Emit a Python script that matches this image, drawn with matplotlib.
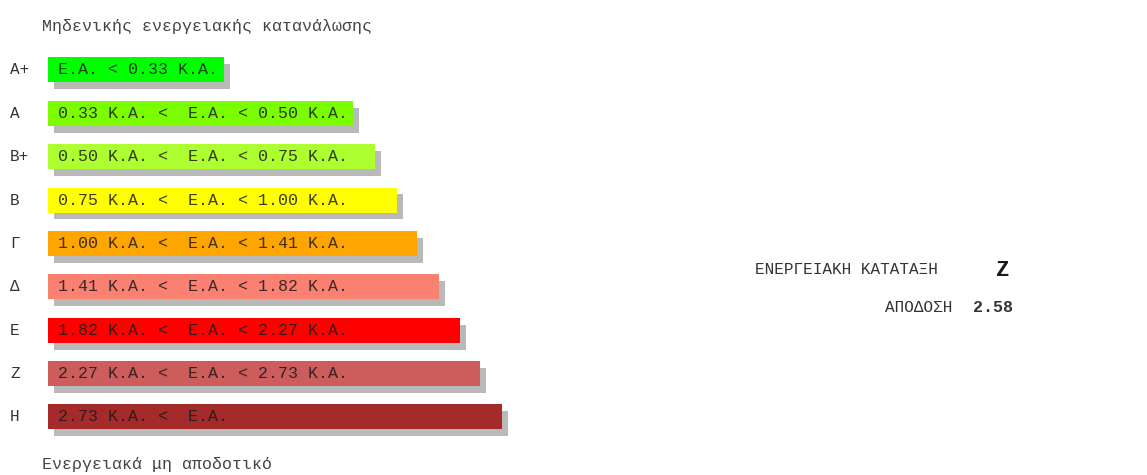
import matplotlib
matplotlib.use("Agg")
import matplotlib.pyplot as plt
import matplotlib.patheffects as pe

# energy classes, top to bottom
classes = ["Α+", "Α", "Β+", "Β", "Γ", "Δ", "Ε", "Ζ", "Η"]
ranges = [
    "Ε.Α. < 0.33 Κ.Α.",
    "0.33 Κ.Α. <  Ε.Α. < 0.50 Κ.Α.",
    "0.50 Κ.Α. <  Ε.Α. < 0.75 Κ.Α.",
    "0.75 Κ.Α. <  Ε.Α. < 1.00 Κ.Α.",
    "1.00 Κ.Α. <  Ε.Α. < 1.41 Κ.Α.",
    "1.41 Κ.Α. <  Ε.Α. < 1.82 Κ.Α.",
    "1.82 Κ.Α. <  Ε.Α. < 2.27 Κ.Α.",
    "2.27 Κ.Α. <  Ε.Α. < 2.73 Κ.Α.",
    "2.73 Κ.Α. <  Ε.Α.",
]
bar_len = [176, 305, 327, 349, 369, 391, 412, 432, 454]
bar_colors = ["lime", "lawngreen", "greenyellow", "yellow", "orange",
              "salmon", "red", "indianred", "brown"]

top_label = "Μηδενικής ενεργειακής κατανάλωσης"
bottom_label = "Ενεργειακά μη αποδοτικό"
rating = "Ζ"
score = "2.58"

mono = "Liberation Mono"
W, H = 1147, 475
fig = plt.figure(figsize=(W / 100, H / 100), dpi=100)
ax = fig.add_axes([0, 0, 1, 1])
ax.set_axis_off()

# px mapping: row i centred at 70 + 43.35*i
step = 43.35
ax.set_xlim(0, W)
ax.set_ylim((H - 70) / step, -70 / step)

ypos = list(range(len(classes)))
shadow = [pe.SimplePatchShadow(offset=(4.4, -5.0), shadow_rgbFace="#b9b9b9", alpha=1.0),
          pe.Normal()]
bars = ax.barh(ypos, bar_len, left=48, height=25 / step, color=bar_colors)
for b in bars:
    b.set_path_effects(shadow)

for i, (c, r) in enumerate(zip(classes, ranges)):
    ax.text(10, i, c, family=mono, fontsize=11.5, color="#333333", va="center", ha="left")
    ax.text(58, i, r, family=mono, fontsize=12, color="#1a1a1a", va="center", ha="left",
            alpha=0.85)

ax.text(42, (27 - 70) / step, top_label, family=mono, fontsize=12, color="#444444",
        va="center", ha="left")
ax.text(42, (465 - 70) / step, bottom_label, family=mono, fontsize=12, color="#444444",
        va="center", ha="left")

fig.text(755 / W, 1 - 270 / H, "ΕΝΕΡΓΕΙΑΚΗ ΚΑΤΑΤΑΞΗ", family=mono, fontsize=11.5,
         color="#333333", va="center", ha="left")
fig.text(996 / W, 1 - 270 / H, rating, family=mono, fontsize=16, fontweight="bold",
         color="#1a1a1a", va="center", ha="left")
fig.text(885 / W, 1 - 308 / H, "ΑΠΟΔΟΣΗ", family=mono, fontsize=11.5,
         color="#333333", va="center", ha="left")
fig.text(973 / W, 1 - 308 / H, score, family=mono, fontsize=12, fontweight="bold",
         color="#333333", va="center", ha="left")

fig.savefig("out.png", dpi=100, facecolor="white")
